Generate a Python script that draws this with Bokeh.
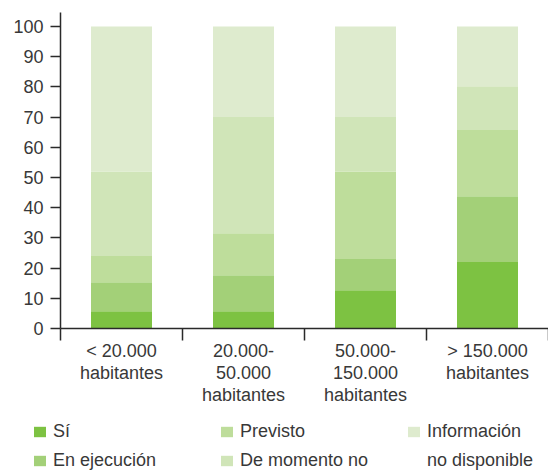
from bokeh.plotting import figure
from bokeh.layouts import column
from bokeh.models import (FactorRange, Range1d, LinearAxis, FixedTicker,
                          CustomJSTickFormatter, Legend, LegendItem, ColumnDataSource)
from bokeh.embed import file_html
from bokeh.resources import INLINE

# ---- data -------------------------------------------------------------
categories = ["< 20.000\nhabitantes",
              "20.000-\n50.000\nhabitantes",
              "50.000-\n150.000\nhabitantes",
              "> 150.000\nhabitantes"]
series = ["Sí", "En ejecución", "Previsto", "De momento no", "Información"]
series_last_line2 = "no disponible"
si = [5.7, 5.7, 12.7, 22.0]
en_ejecucion = [9.6, 11.9, 10.3, 21.8]
previsto = [8.7, 13.9, 29.0, 21.9]
de_momento_no = [28.0, 38.5, 18.0, 14.5]
info_no_disponible = [48.0, 30.0, 30.0, 19.8]
y_ticks = [0, 10, 20, 30, 40, 50, 60, 70, 80, 90, 100]

colors = ["#7dc242", "#a3d078", "#bedd9b", "#d0e5b8", "#deebce"]
FONT = "Liberation Sans"
TEXT = "#383838"
AXIS = "#2a2a2a"

keys = ["s0", "s1", "s2", "s3", "s4"]
source = ColumnDataSource(dict(cat=categories, s0=si, s1=en_ejecucion,
                               s2=previsto, s3=de_momento_no,
                               s4=info_no_disponible))

xr = FactorRange(factors=categories, range_padding=0)

p = figure(width=548, height=420, x_range=xr, y_range=Range1d(0, 104.6),
           output_backend="svg", toolbar_location=None,
           x_axis_location=None,
           min_border_left=60, min_border_right=0,
           min_border_top=12, min_border_bottom=92)
p.outline_line_color = None
p.xgrid.visible = False
p.ygrid.visible = False
p.frame_align = False

renderers = p.vbar_stack(keys, x="cat", width=0.5, color=colors,
                         line_color=None, source=source)

# y axis
ya = p.yaxis[0]
ya.ticker = FixedTicker(ticks=y_ticks, minor_ticks=[])
ya.axis_line_color = AXIS
ya.axis_line_width = 1.5
ya.major_tick_line_color = AXIS
ya.major_tick_line_width = 1.5
ya.major_tick_out = 10
ya.major_tick_in = 0
ya.minor_tick_line_color = None
ya.major_label_standoff = 7
ya.major_label_text_font = FONT
ya.major_label_text_font_size = "18px"
ya.major_label_text_color = TEXT

# x axis: separators as minor ticks, labels at category centres
n = len(categories)
xa = LinearAxis(ticker=FixedTicker(ticks=[i + 0.5 for i in range(n)],
                                   minor_ticks=list(range(n + 1))),
                formatter=CustomJSTickFormatter(args=dict(names=categories),
                                                code="return names[Math.floor(tick)]"))
xa.axis_line_color = AXIS
xa.axis_line_width = 1.5
xa.major_tick_line_color = None
xa.major_tick_out = 12
xa.major_tick_in = 0
xa.minor_tick_line_color = AXIS
xa.minor_tick_line_width = 1.5
xa.minor_tick_out = 12
xa.minor_tick_in = 0
xa.major_label_standoff = 0
xa.major_label_text_font = FONT
xa.major_label_text_font_size = "18px"
xa.major_label_text_color = TEXT
xa.major_label_text_line_height = 1.1
xa.major_label_orientation = "horizontal"
p.add_layout(xa, "below")

# ---- legend strip (its renderers stay out of view) ---------------------
p2 = figure(width=548, height=52, x_range=xr, y_range=Range1d(1000, 1001),
            output_backend="svg", toolbar_location=None,
            x_axis_location=None, y_axis_location=None,
            min_border=0, min_border_left=0, min_border_right=0,
            min_border_top=0, min_border_bottom=0)
p2.outline_line_color = None
p2.xgrid.visible = False
p2.ygrid.visible = False
p2.frame_align = False
lrend = p2.vbar_stack(keys, x="cat", width=0.5, color=colors,
                      line_color=None, source=source)
blank = p2.vbar(x="cat", top="s4", width=0.5, source=source,
                fill_alpha=0, line_alpha=0)

items = [LegendItem(label=s, renderers=[r]) for s, r in zip(series, lrend)]
items.append(LegendItem(label=series_last_line2, renderers=[blank]))
legend = Legend(items=items, location=(32, 1), orientation="vertical",
                nrows=2, glyph_width=15, glyph_height=13, label_standoff=6,
                spacing=8, padding=0, margin=0, border_line_color=None,
                background_fill_alpha=0, label_text_font=FONT,
                label_text_font_size="18px", label_text_color=TEXT,
                label_width=158, label_height=20)
p2.add_layout(legend, "center")

layout = column(p, p2, spacing=0)
open("out.html", "w").write(file_html(layout, INLINE))
